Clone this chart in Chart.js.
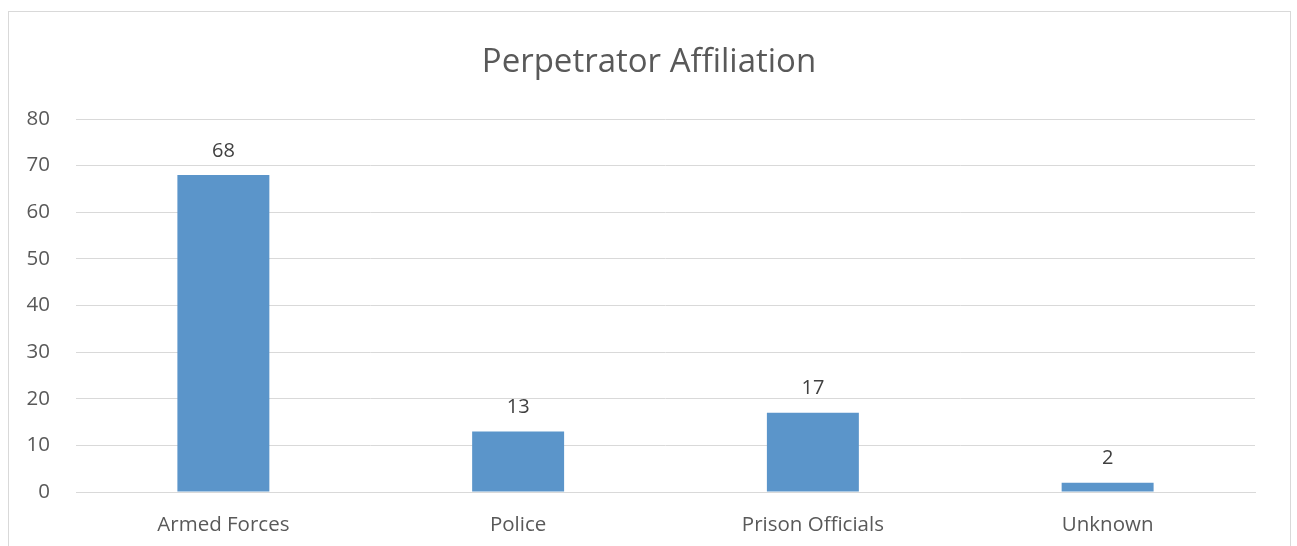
<!DOCTYPE html>
<html>
<head>
<meta charset="utf-8">
<script src="https://cdn.jsdelivr.net/npm/chart.js@4/dist/chart.umd.min.js"></script>
<style>
  html, body { margin: 0; padding: 0; background: #fff; }
  #frame {
    position: absolute; left: 8px; top: 11px; width: 1283px; height: 560px;
    border: 1px solid #d9d9d9; box-sizing: border-box;
  }
  #wrap { position: absolute; left: 0; top: 0; width: 1297px; height: 546px; }
</style>
</head>
<body>
<div id="frame"></div>
<div id="wrap"><canvas id="chart"></canvas></div>
<script>
// chart data
const categories = ['Armed Forces', 'Police', 'Prison Officials', 'Unknown'];
const counts = [68, 13, 17, 2];
const yTicks = [0, 10, 20, 30, 40, 50, 60, 70, 80];
const chartTitle = 'Perpetrator Affiliation';

const fontFamily = '"Open Sans", "Liberation Sans", sans-serif';
const textColor = '#595959';

// value above each bar + title centred on the whole frame
const valueLabels = {
  id: 'valueLabels',
  afterDatasetsDraw(chart) {
    const ctx = chart.ctx;
    const meta = chart.getDatasetMeta(0);
    ctx.save();
    ctx.font = '20px ' + fontFamily;
    ctx.fillStyle = '#404040';
    ctx.textAlign = 'center';
    ctx.textBaseline = 'bottom';
    meta.data.forEach((bar, i) => {
      ctx.fillText(String(counts[i]), bar.x, bar.y - 14);
    });

    ctx.font = '33px ' + fontFamily;
    ctx.fillStyle = textColor;
    ctx.textBaseline = 'alphabetic';
    ctx.fillText(chartTitle, 649, 72);
    ctx.restore();
  }
};

new Chart(document.getElementById('chart'), {
  type: 'bar',
  data: {
    labels: categories,
    datasets: [{
      data: counts,
      backgroundColor: '#5b95ca',
      borderWidth: 0,
      categoryPercentage: 1,
      barPercentage: 0.312
    }]
  },
  options: {
    responsive: true,
    maintainAspectRatio: false,
    animation: false,
    layout: { padding: { left: 0, right: 42, top: 119, bottom: 0 } },
    plugins: {
      legend: { display: false },
      tooltip: { enabled: false },
      title: { display: false }
    },
    scales: {
      x: {
        grid: { display: false, drawTicks: false },
        border: { display: true, color: '#d9d9d9', width: 1 },
        ticks: {
          color: textColor,
          padding: 21,
          font: { family: fontFamily, size: 20.5 }
        },
        afterFit(scale) { scale.height = 54; }
      },
      y: {
        min: 0,
        max: 80,
        afterBuildTicks(scale) { scale.ticks = yTicks.map(v => ({ value: v })); },
        grid: { color: '#d9d9d9', lineWidth: 1, drawTicks: false },
        border: { display: false },
        ticks: {
          color: textColor,
          padding: 26,
          font: { family: fontFamily, size: 20.5 }
        },
        afterFit(scale) { scale.width = 76; }
      }
    }
  },
  plugins: [valueLabels]
});
</script>
</body>
</html>
